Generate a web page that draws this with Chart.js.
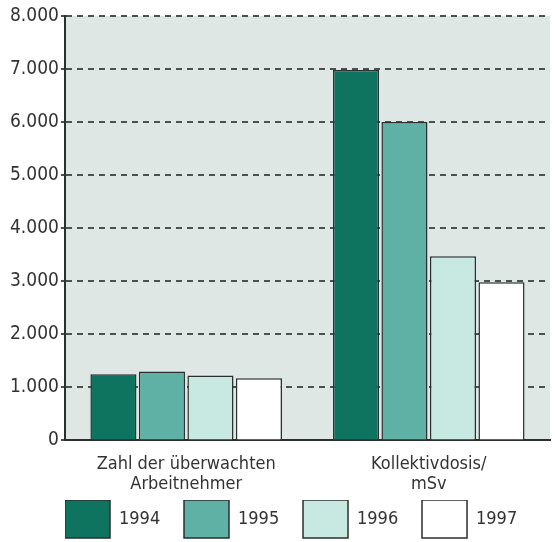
<!DOCTYPE html>
<html>
<head>
<meta charset="utf-8">
<script src="https://cdn.jsdelivr.net/npm/chart.js@4"></script>
<style>
  html, body { margin: 0; padding: 0; background: #fff; }
  #wrap { width: 555px; height: 542px; }
</style>
</head>
<body>
<div id="wrap"><canvas id="chart" width="555" height="542"></canvas></div>
<script>
// categories and series values
var categories = [["Zahl der überwachten", "Arbeitnehmer"], ["Kollektivdosis/", "mSv"]];
var years = ["1994", "1995", "1996", "1997"];
var v1994 = [1245, 6980];
var v1995 = [1300, 6000];
var v1996 = [1225, 3470];
var v1997 = [1170, 2980];
var yTicks = [0, 1000, 2000, 3000, 4000, 5000, 6000, 7000, 8000];

var fillColors = ['#0e7460', '#5fb0a5', '#c8e9e1', '#ffffff'];
var fontFam = '"DejaVu Sans Condensed", "Liberation Sans Narrow", "Liberation Sans", sans-serif';

function fmt(v) {
  // 8000 -> 8.000
  if (v === 0) return '0';
  var s = String(v);
  return s.slice(0, s.length - 3) + '.' + s.slice(s.length - 3);
}

// fill the plot area with the pale grey-green
var plotBg = {
  id: 'plotBg',
  beforeDraw: function(chart) {
    var a = chart.chartArea;
    var ctx = chart.ctx;
    ctx.save();
    ctx.fillStyle = '#dfe7e4';
    ctx.fillRect(a.left, a.top, a.right - a.left, a.bottom - a.top);
    ctx.restore();
  }
};

// legend starts under the y axis like in the print
var legendShift = {
  id: 'legendShift',
  afterLayout: function(chart) {
    var lg = chart.legend;
    var w = lg.right - lg.left;
    lg.left = 65;
    lg.right = 65 + w;
  }
};

var allValues = [v1994, v1995, v1996, v1997];
var datasets = years.map(function(y, i) {
  return {
    label: y,
    data: allValues[i],
    backgroundColor: fillColors[i],
    borderColor: '#2b2f2d',
    borderWidth: 1.5,
    categoryPercentage: 0.8,
    barPercentage: 0.95
  };
});

var ctx = document.getElementById('chart').getContext('2d');
var chart = new Chart(ctx, {
  type: 'bar',
  data: { labels: categories, datasets: datasets },
  plugins: [plotBg, legendShift],
  options: {
    responsive: false,
    animation: false,
    layout: { padding: { top: 16, right: 5, left: 8, bottom: -6 } },
    plugins: {
      tooltip: { enabled: false },
      legend: {
        position: 'bottom',
        align: 'start',
        labels: {
          boxWidth: 45,
          boxHeight: 38,
          padding: 0,
          color: '#333',
          font: { family: fontFam, size: 18 },
          generateLabels: function(chart) {
            return chart.data.datasets.map(function(ds, i) {
              return {
                text: ds.label + '    \u2009',
                fillStyle: ds.backgroundColor,
                strokeStyle: ds.borderColor,
                lineWidth: 1.5,
                datasetIndex: i,
                fontColor: '#333'
              };
            });
          }
        }
      }
    },
    scales: {
      x: {
        grid: { display: false },
        border: { color: '#2b2f2d', width: 2 },
        ticks: {
          color: '#333',
          font: { family: fontFam, size: 18, lineHeight: 1.1 },
          padding: 6
        }
      },
      y: {
        min: 0,
        max: 8000,
        afterBuildTicks: function(axis) {
          axis.ticks = yTicks.map(function(v) { return { value: v }; });
        },
        grid: {
          color: '#4a524f',
          lineWidth: 2,
          drawTicks: true,
          tickLength: 4
        },
        border: { color: '#2b2f2d', width: 2, dash: [6, 5] },
        ticks: {
          color: '#333',
          font: { family: fontFam, size: 19 },
          padding: 2,
          callback: function(v) { return fmt(v); }
        }
      }
    }
  }
});
</script>
</body>
</html>
